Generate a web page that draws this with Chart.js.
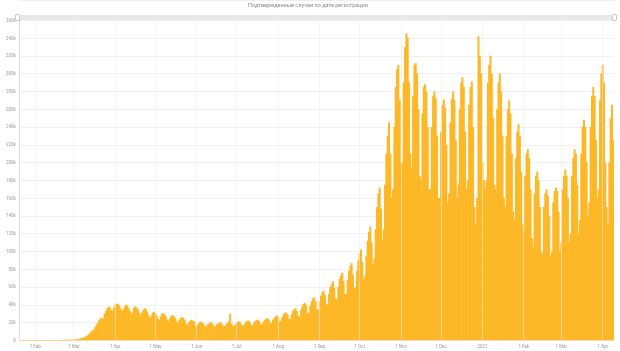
<!DOCTYPE html>
<html><head><meta charset="utf-8">
<script src="https://cdn.jsdelivr.net/npm/chart.js@4"></script>
<style>
html,body{margin:0;padding:0;background:#fff;}
#wrap{position:relative;width:620px;height:351px;}
#slider{position:absolute;left:17px;top:15px;width:598px;height:5px;background:#e9e9e9;border-radius:2px;}
.h{position:absolute;top:-1px;width:3px;height:5px;background:#fff;border:1px solid #c8c8c8;border-radius:1px;}
</style></head><body>
<div id="wrap"><canvas id="c" width="620" height="351"></canvas><div id="slider"><div class="h" style="left:-2px"></div><div class="h" style="right:-2px"></div></div></div>
<script>
const titleText = 'Подтвержденные случаи по дате регистрации';
const startDate = [2020, 0, 21];
const monthNames = ['Jan','Feb','Mar','Apr','May','Jun','Jul','Aug','Sep','Oct','Nov','Dec'];
const yTicksK = [0,20,40,60,80,100,120,140,160,180,200,220,240,260,280,300,320,340,360];
// daily confirmed cases, thousands (from Tue 21 Jan 2020, weekly rows Mon..Sun)
const cases = [
  0,0,0,0,0,0,
  0,0,0,0,0,0,0,
  0,0,0,0,0,0,0,
  0,0,0,0,0,0,0,
  0,0,0,0,0,0.1,0.1,
  0.2,0.3,0.4,0.5,0.6,0.7,0.8,
  0.9,1.2,1.5,1.8,2.2,2.6,3.0,
  3.5,4.2,5.5,6.5,8,10,11,
  12,15,18,20,23,25,24,
  25,30,33,36,38,37,34,
  33,37,40,41,41,39,36,
  33,35,38,40,39,36,33,
  29,32,37,38,37,35,31,
  28,31,34,36,35,32,28,
  25,28,31,32,30,28,24,
  23,27,30,30,29,27,23,
  21,25,28,28,27,25,21,
  19,23,25,26,25,23,19,
  17,20,22,23,22,21,17,
  15,18,20,21,20,19,16,
  15,18,19,20,20,18,16,
  15,18,19,20,20,18,16,
  16,18,20,21,30,19,16,
  16,18,20,21,21,19,17,
  17,19,21,22,22,20,17,
  17,20,22,23,23,21,18,
  18,21,23,24,25,23,19,
  20,23,25,27,28,26,21,
  22,26,29,31,31,29,24,
  24,29,33,35,36,33,27,
  27,34,38,41,42,39,31,
  30,39,44,47,48,44,35,
  34,44,50,54,56,51,41,
  40,52,60,63,66,59,47,
  46,60,69,73,76,66,52,
  52,68,78,84,87,74,58,
  60,78,90,98,102,88,68,
  72,95,112,122,128,110,85,
  92,125,150,165,172,148,112,
  125,175,210,230,245,210,160,
  170,240,285,305,310,270,200,
  200,290,330,345,340,290,210,
  195,275,310,312,300,260,185,
  180,255,285,288,280,240,170,
  170,240,275,280,272,230,160,
  160,235,265,271,262,220,155,
  165,245,272,280,270,225,160,
  175,260,290,296,285,235,170,
  180,265,285,291,240,150,130,
  160,342,320,300,200,180,170,
  180,290,310,320,300,250,175,
  170,260,290,300,280,230,160,
  150,230,260,270,255,210,145,
  135,205,235,243,230,190,130,
  120,185,210,215,205,170,115,
  105,165,185,190,180,150,100,
  97,150,165,170,163,140,95,
  100,155,168,172,168,145,100,
  110,170,185,192,185,160,110,
  120,185,205,215,210,175,120,
  135,210,240,248,240,200,140,
  155,240,275,285,275,225,160,
  170,270,300,310,290,200,150,
  130,200,250,265,225
];

const categories = [];
for (let i = 0; i < cases.length; i++) {
  const d = new Date(Date.UTC(startDate[0], startDate[1], startDate[2] + i));
  categories.push(d.toISOString().slice(0, 10));
}
function isMonthStart(idx) { return categories[idx] && categories[idx].slice(8) === '01'; }
function tickText(idx) {
  const s = categories[idx];
  const m = parseInt(s.slice(5, 7), 10) - 1;
  if (m === 0) return s.slice(0, 4);
  return '1 ' + monthNames[m];
}

const FONT = 'Roboto, "Open Sans", sans-serif';
new Chart(document.getElementById('c'), {
  type: 'bar',
  data: {
    labels: categories,
    datasets: [{
      data: cases,
      backgroundColor: '#FDB827',
      borderWidth: 0,
      barPercentage: 1,
      categoryPercentage: 1
    }]
  },
  options: {
    responsive: false,
    devicePixelRatio: 1,
    animation: false,
    layout: { padding: { left: 2, right: 6, top: 0, bottom: 0 } },
    plugins: {
      legend: { display: false },
      tooltip: { enabled: false },
      title: {
        display: true, text: titleText, color: '#8a8a8a',
        font: { family: FONT, size: 5.5, weight: 'normal' },
        padding: { top: 2, bottom: 12 }
      }
    },
    scales: {
      x: {
        type: 'category',
        offset: true,
        afterBuildTicks: (scale) => { scale.ticks = scale.ticks.filter(t => isMonthStart(t.value)); },
        grid: { offset: false, color: 'rgba(236,236,236,0.55)', z: 1, tickLength: 3, drawTicks: true },
        border: { color: '#dddddd' },
        ticks: {
          autoSkip: false, maxRotation: 0, minRotation: 0, padding: 1,
          color: '#9a9a9a', font: { family: FONT, size: 4.5 },
          callback: (v) => tickText(v)
        }
      },
      y: {
        min: 0, max: 360,
        afterBuildTicks: (scale) => { scale.ticks = yTicksK.map(v => ({ value: v })); },
        grid: { color: '#f0f0f0', drawTicks: false },
        border: { color: '#dddddd' },
        ticks: {
          padding: 4, color: '#9a9a9a', font: { family: FONT, size: 4.5 },
          callback: (v) => v === 0 ? '0' : v + 'k'
        }
      }
    }
  }
});
</script>
</body></html>
